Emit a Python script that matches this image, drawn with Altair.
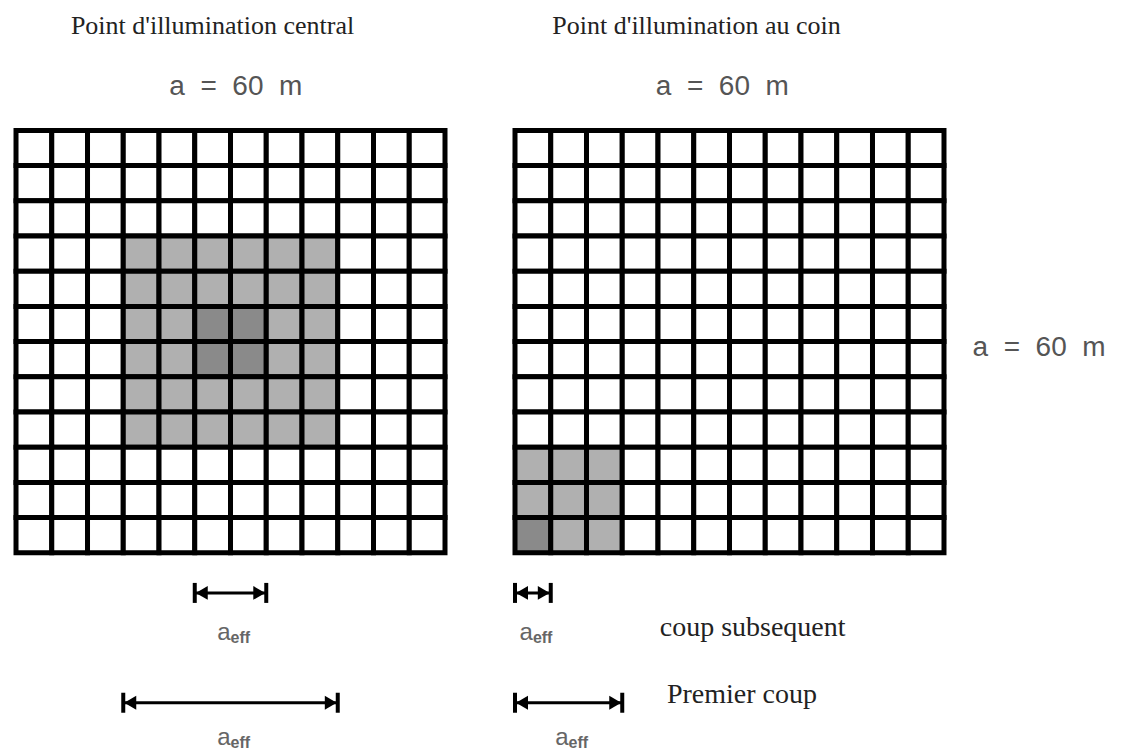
import altair as alt
import pandas as pd

# ---------------- data ----------------
N = 12  # cells per side (a = 60 m)

# shaded cells, 1-based (row counted from the top, column from the left)
left_lit_rows = [4, 5, 6, 7, 8, 9]
left_lit_cols = [4, 5, 6, 7, 8, 9]
left_core_rows = [6, 7]
left_core_cols = [6, 7]

right_lit_rows = [10, 11, 12]
right_lit_cols = [1, 2, 3]
right_core_rows = [12]
right_core_cols = [1]

# a_eff spans, in cell widths from the grid's left edge
span_kind = ["subsequent", "premier"]
left_span_start = [5, 3]
left_span_end = [7, 9]
right_span_start = [0, 0]
right_span_end = [1, 3]

titles = ["Point d'illumination central", "Point d'illumination au coin"]
size_label = "a\u00a0\u00a0=\u00a0\u00a060\u00a0\u00a0m"
kind_labels = ["coup subsequent", "Premier coup"]

# ---------------- layout / style ----------------
ARROW_Y = {"subsequent": -1.14, "premier": -4.26}
LABEL_Y = {"subsequent": -2.27, "premier": -5.26}
KIND_X = [4.05, 4.25]
KIND_Y = [-2.13, -4.03]
FILLS = ["#ffffff", "#b0b0b0", "#8a8a8a"]
SERIF = "Liberation Serif"
SANS = "Liberation Sans"
XW, YH = 35.75, 35.2
YDOM = [-5.6, 14]


def cells(lit_rows, lit_cols, core_rows, core_cols):
    rows = []
    for r in range(1, N + 1):
        for c in range(1, N + 1):
            lvl = 0
            if r in lit_rows and c in lit_cols:
                lvl = 1
            if r in core_rows and c in core_cols:
                lvl = 2
            rows.append({"x0": c - 1, "x1": c, "y0": N - r, "y1": N - r + 1, "level": lvl})
    return pd.DataFrame(rows)


def spans(starts, ends):
    return pd.DataFrame({
        "kind": span_kind,
        "start": starts,
        "end": ends,
        "y": [ARROW_Y[k] for k in span_kind],
        "ly": [LABEL_Y[k] for k in span_kind],
    })


def panel(cell_df, span_df, title, title_dx, sub_x, extra=None):
    xs = alt.Scale(domain=[0, N], nice=False, zero=False)
    ys = alt.Scale(domain=YDOM, nice=False, zero=False)
    X = lambda f: alt.X(f, type="quantitative", scale=xs, axis=None)
    Y = lambda f: alt.Y(f, type="quantitative", scale=ys, axis=None)

    grid = alt.Chart(cell_df).mark_rect(stroke="black", strokeWidth=5).encode(
        x=X("x0"), x2="x1", y=Y("y0"), y2="y1",
        fill=alt.Fill("level:O", scale=alt.Scale(domain=[0, 1, 2], range=FILLS), legend=None),
    )
    base = alt.Chart(span_df)
    line = base.mark_rule(color="black", strokeWidth=3).encode(x=X("start"), x2="end", y=Y("y"))
    tick_s = base.mark_tick(orient="vertical", size=20, thickness=4, color="black", opacity=1).encode(x=X("start"), y=Y("y"))
    tick_e = base.mark_tick(orient="vertical", size=20, thickness=4, color="black", opacity=1).encode(x=X("end"), y=Y("y"))
    tri_s = base.mark_point(shape="triangle-left", filled=True, color="black", size=190, opacity=1).encode(
        x=X("start"), y=Y("y"), xOffset=alt.value(7))
    tri_e = base.mark_point(shape="triangle-right", filled=True, color="black", size=190, opacity=1).encode(
        x=X("end"), y=Y("y"), xOffset=alt.value(-7))
    mid = base.transform_calculate(mid="(datum.start + datum.end) / 2")
    lab_a = mid.mark_text(text="a", font=SANS, fontSize=24, color="#666", align="right", baseline="middle", dx=0).encode(
        x=X("mid:Q"), y=Y("ly"))
    lab_eff = mid.mark_text(text="eff", font=SANS, fontSize=16, fontWeight="bold", color="#666", align="left",
                            baseline="middle", dx=0, dy=5).encode(x=X("mid:Q"), y=Y("ly"))
    sub = alt.Chart(pd.DataFrame({"t": [size_label], "x": [sub_x], "y": [13.22]})).mark_text(
        font=SANS, fontSize=28, color="#555", align="center", baseline="middle").encode(
        x=X("x"), y=Y("y"), text="t:N")
    layers = [grid, line, tick_s, tick_e, tri_s, tri_e, lab_a, lab_eff, sub]
    if extra is not None:
        layers += extra
    return alt.layer(*layers).properties(
        width=N * XW, height=(YDOM[1] - YDOM[0]) * YH,
        title=alt.TitleParams(title, font=SERIF, fontSize=26, fontWeight="normal", color="#222",
                              anchor="middle", dx=title_dx, offset=21),
    )


xs_r = alt.Scale(domain=[0, N], nice=False, zero=False)
ys_r = alt.Scale(domain=YDOM, nice=False, zero=False)
kind_df = pd.DataFrame({"t": kind_labels, "x": KIND_X, "y": KIND_Y})
kind_text = alt.Chart(kind_df).mark_text(font=SERIF, fontSize=28, color="#222", align="left", baseline="middle").encode(
    x=alt.X("x:Q", scale=xs_r, axis=None), y=alt.Y("y:Q", scale=ys_r, axis=None), text="t:N")
side_text = alt.Chart(pd.DataFrame({"t": [size_label], "x": [12.8], "y": [5.82]})).mark_text(
    font=SANS, fontSize=28, color="#555", align="left", baseline="middle").encode(
    x=alt.X("x:Q", scale=xs_r, axis=None), y=alt.Y("y:Q", scale=ys_r, axis=None), text="t:N")

left = panel(cells(left_lit_rows, left_lit_cols, left_core_rows, left_core_cols),
             spans(left_span_start, left_span_end), titles[0], -18, 6.15)
right = panel(cells(right_lit_rows, right_lit_cols, right_core_rows, right_core_cols),
              spans(right_span_start, right_span_end), titles[1], -33, 5.8, [kind_text, side_text])

chart = (
    alt.hconcat(left, right, spacing=64)
    .properties(background="white")
    .configure_view(strokeWidth=0, stroke=None)
)
chart.save("out.html", embed_options={"renderer": "svg", "actions": False})
